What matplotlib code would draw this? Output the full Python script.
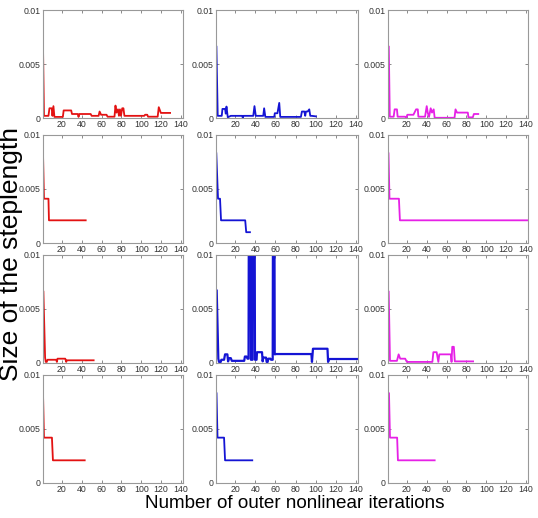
import matplotlib
matplotlib.use('Agg')
import matplotlib.pyplot as plt

plt.rcParams['font.family'] = ['Liberation Sans', 'DejaVu Sans']

# iteration number / step length (row, column)
red1_it = [1, 2, 6.5, 7.5, 9.8, 10.5, 11.5, 12.5, 21, 21.8, 29.4, 30.2, 36, 36.8, 37.6, 49, 50, 57, 58, 59.5, 65, 66, 73, 74, 75, 76.5, 77.5, 78.5, 79.5, 80.8, 82, 83, 103, 103.8, 106, 106.8, 116.5, 117.6, 119.7, 129]
red1_st = [0.0066, 0.0002, 0.0002, 0.0009, 0.0009, 0.0002, 0.0011, 0.0001, 0.0001, 0.0007, 0.0007, 0.00037, 0.00037, 0.0001, 0.00037, 0.00037, 0.0002, 0.0002, 0.0006, 0.0003, 0.0003, 0.00012, 0.00012, 0.00115, 0.0005, 0.0008, 0.0002, 0.0008, 0.0002, 0.0009, 0.0009, 0.0002, 0.0002, 0.0003, 0.0003, 0.00012, 0.00012, 0.001, 0.00047, 0.00047]

blue1_it = [1.4, 2.7, 6.7, 7.4, 10, 10.7, 11.4, 12.7, 15.7, 27, 27.6, 28.3, 38, 39.2, 40.5, 47.9, 48.8, 50, 58.8, 59.4, 62, 63.8, 64.8, 85.3, 86.3, 88.7, 89.6, 90.3, 92, 93.6, 94.6, 96, 100.2]
blue1_st = [0.0066, 0.0002, 0.0002, 0.00084, 0.00084, 0.0004, 0.00106, 0.00006, 0.0002, 0.0002, 0.00002, 0.0002, 0.0002, 0.0011, 0.0002, 0.0002, 0.0009, 0.0001, 0.0001, 0.00044, 0.00044, 0.0014, 0.0001, 0.0001, 0.0006, 0.0006, 0.0002, 0.0006, 0.0006, 0.0008, 0.0002, 0.0002, 0.00015]

mag1_it = [1.8, 2.8, 6.7, 7.7, 10, 10.7, 18.3, 19.3, 20.5, 26.6, 29.3, 31, 31.6, 38.3, 40, 41, 42.3, 44, 45.3, 47, 48, 68, 69, 70.5, 81.4, 82, 86.4, 87.5, 91.9]
mag1_st = [0.0066, 0.00012, 0.00012, 0.0008, 0.0008, 0.00012, 0.00012, 0.0, 0.0003, 0.0003, 0.0008, 0.0008, 0.00012, 0.00012, 0.0011, 0.0005, 0.0001, 0.0009, 0.0005, 0.0008, 0.00002, 0.00002, 0.0008, 0.0005, 0.0005, 0.00006, 0.00006, 0.00037, 0.00037]

red2_it = [1, 2, 6.5, 7, 44]
red2_st = [0.0083, 0.0041, 0.0041, 0.0021, 0.0021]

blue2_it = [1.3, 3, 5, 6, 30, 31, 34.7]
blue2_st = [0.0083, 0.0041, 0.0041, 0.0021, 0.0021, 0.001, 0.001]

mag2_it = [1.5, 2.5, 12, 13, 150]
mag2_st = [0.0083, 0.0041, 0.0041, 0.0021, 0.0021]

red3_it = [1.4, 3.1, 3.8, 4.8, 5.5, 14.3, 15, 15.6, 23.4, 24.4, 25, 52]
red3_st = [0.0066, 0.0005, 0.0001, 0.0001, 0.0003, 0.0003, 0.0001, 0.0004, 0.0004, 0.0001, 0.00025, 0.00025]

blue3_it = [1.7, 3.3, 4, 5.7, 6.3, 9, 10, 12.3, 13, 14, 15.7, 16.7, 29, 29.7, 31.3, 32.3, 33.3, 34.5, 35.7, 36.5, 37.3, 38.5, 39.7, 41.3, 41.7, 46.7, 47.3, 48, 50.7, 51.3, 52.3, 53, 55, 55.7, 57.3, 58.3, 59.3, 60.7, 95.7, 96.3, 97.3, 111.7, 112.3, 113.3, 150]
blue3_st = [0.0067, 0.0004, 0.0001, 0.0001, 0.0003, 0.0003, 0.0008, 0.0008, 0.00015, 0.00045, 0.00045, 0.0002, 0.0002, 0.0006, 0.0006, 0.0004, 0.0004, 0.05, 0.0003, 0.0003, 0.0003, 0.05, 0.0003, 0.0003, 0.001, 0.001, 0.00015, 0.0005, 0.0005, 0.0001, 0.0001, 0.0004, 0.0004, 0.0003, 0.0003, 0.05, 0.0008, 0.00083, 0.00083, 0.0001, 0.00132, 0.00132, 0.0001, 0.00037, 0.00037]

mag3_it = [1.7, 3, 10, 11.7, 13.3, 18.3, 20, 45.7, 46.7, 50, 51.7, 52.7, 64.3, 65, 65.7, 67.3, 68.3, 86.7]
mag3_st = [0.0066, 0.0002, 0.0002, 0.0008, 0.0004, 0.0004, 0.0001, 0.0001, 0.001, 0.001, 0.0001, 0.0008, 0.0008, 0.0001, 0.0015, 0.0015, 0.00015, 0.00015]

red4_it = [1, 2, 10, 11, 43]
red4_st = [0.0083, 0.0042, 0.0042, 0.0021, 0.0021]

blue4_it = [1.5, 2.5, 9, 10, 37]
blue4_st = [0.0083, 0.0042, 0.0042, 0.0021, 0.0021]

mag4_it = [2, 3, 10.2, 11, 48]
mag4_st = [0.0083, 0.0042, 0.0042, 0.0021, 0.0021]

xticks = [20, 40, 60, 80, 100, 120, 140]
yticks = [0, 0.005, 0.01]
ytick_labels = ['0', '0.005', '0.01']
colors = ['#e31212', '#1414d4', '#e620e6']

panels = [
    [(red1_it, red1_st), (blue1_it, blue1_st), (mag1_it, mag1_st)],
    [(red2_it, red2_st), (blue2_it, blue2_st), (mag2_it, mag2_st)],
    [(red3_it, red3_st), (blue3_it, blue3_st), (mag3_it, mag3_st)],
    [(red4_it, red4_st), (blue4_it, blue4_st), (mag4_it, mag4_st)],
]

W, H = 538, 518
fig = plt.figure(figsize=(W / 100, H / 100), dpi=100)

lefts = [43, 216, 388]
widths = [140, 142, 140]
tops = [10, 135, 255, 375]
ah = 108

for r in range(4):
    for c in range(3):
        ax = fig.add_axes([lefts[c] / W, 1 - (tops[r] + ah) / H, widths[c] / W, ah / H])
        x, y = panels[r][c]
        lw = 1.6 if (r, c) == (2, 1) else 1.3
        ax.plot(x, y, color=colors[c], lw=lw)
        ax.set_xlim(1, 142)
        ax.set_ylim(0, 0.01)
        ax.set_xticks(xticks)
        ax.set_xticklabels([str(t) for t in xticks])
        ax.set_yticks(yticks)
        ax.set_yticklabels(ytick_labels)
        ax.tick_params(direction='in', top=True, right=True, length=2.5, width=0.6,
                       labelsize=6.3, pad=1.5, color='#777777', labelcolor='#333333')
        for s in ax.spines.values():
            s.set_color('#999999')
            s.set_linewidth(0.8)

fig.text(11 / W, 1 - 254 / H, 'Size of the steplength', rotation=90,
         ha='center', va='center', fontsize=19)
fig.text(295 / W, 1 - 508 / H, 'Number of outer nonlinear iterations',
         ha='center', va='baseline', fontsize=13.6)

fig.savefig('out.png', dpi=100)
